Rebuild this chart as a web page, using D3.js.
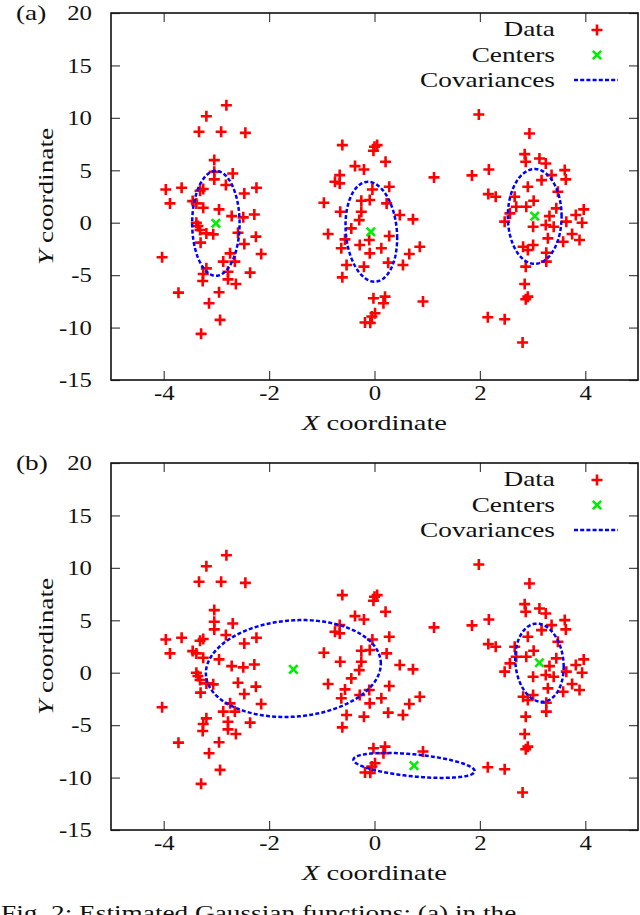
<!DOCTYPE html>
<html><head><meta charset="utf-8">
<script src="https://cdn.jsdelivr.net/npm/d3@7"></script>
<style>
html,body{margin:0;padding:0;background:#fff;}
svg{display:block;}
text{font-family:"Liberation Serif","Times New Roman",serif;fill:#111;}
</style></head><body>
<svg id="chart" width="640" height="915"></svg>
<script>
// ---------------- data ----------------
const clusterLeftX = [-2.81,-3.19,-3.33,-2.91,-2.45,-3.04,-3.04,-2.69,-3.04,-2.82,-3.96,-3.66,-3.25,-3.31,-2.47,-2.24,-3.88,-3.45,-3.38,-3.25,-2.95,-2.71,-2.49,-2.28,-3.38,-3.35,-3.31,-3.19,-3.06,-2.59,-2.25,-3.30,-2.47,-2.15,-4.03,-2.74,-2.87,-2.65,-3.19,-3.25,-3.26,-2.78,-2.78,-2.63,-2.36,-3.72,-2.95,-3.14,-2.93,-3.29];
const clusterLeftY = [11.2,10.16,8.67,8.67,8.57,5.97,4.86,4.70,4.13,3.59,3.17,3.33,3.21,3.05,2.79,3.33,1.84,2.06,1.84,1.43,1.27,0.63,0.51,0.79,0.0,-0.32,-0.70,-1.02,-1.11,-0.95,-1.33,-1.90,-2.03,-2.98,-3.30,-2.92,-3.71,-3.71,-4.35,-4.89,-5.56,-4.67,-5.40,-5.84,-4.76,-6.67,-6.63,-7.68,-9.27,-10.6];
const clusterMidX = [-0.61,0.00,0.05,-0.02,0.21,-0.37,-0.20,-0.66,-0.75,-0.66,-0.04,0.28,-0.96,-0.25,-0.09,0.23,-0.65,-0.25,0.48,0.73,-0.29,-0.44,-0.88,-0.56,-0.10,0.28,-0.28,0.13,-0.63,-0.09,0.66,0.86,0.26,0.54,-0.53,-0.20,-0.61,-0.02,0.20,0.17,-0.05,-0.18,0.01,-0.08,0.92,1.13];
const clusterMidY = [7.40,7.24,7.40,6.86,5.81,5.40,5.08,4.54,3.90,3.75,3.17,3.43,1.90,2.10,2.16,1.84,1.05,1.05,0.73,0.32,0.25,-0.54,-1.08,-1.59,-1.65,-1.27,-2.13,-2.44,-2.44,-2.92,-2.98,-2.29,-3.81,-4.03,-4.03,-4.19,-5.21,-7.21,-7.05,-7.68,-8.95,-9.52,-8.63,-9.55,-7.52,4.32];
const clusterRightX = [1.98,2.94,2.85,2.87,3.13,3.25,2.17,1.85,3.61,3.63,3.17,3.36,2.91,3.48,2.16,2.30,2.66,3.02,2.69,2.88,2.57,3.45,3.97,3.82,2.47,3.32,3.64,3.94,3.01,3.25,3.40,3.75,3.89,3.29,3.58,2.82,3.01,2.91,3.26,3.26,2.87,2.85,2.91,2.87,2.15,2.47,2.81];
const clusterRightY = [10.32,8.51,6.54,5.81,6.13,5.65,5.08,4.51,5.02,4.13,4.06,4.54,3.43,2.95,2.73,2.48,2.48,2.10,1.52,1.52,0.89,1.37,1.27,0.73,0.10,0.63,0.10,0.00,-0.38,-0.22,-0.38,-1.08,-1.65,-1.49,-1.81,-2.29,-2.13,-2.60,-2.86,-3.71,-4.19,-5.84,-7.05,-7.30,-9.02,-9.21,-11.43];

// centers (panel a, panel b)
const centersAX = [-3.01,-0.07,3.04];
const centersAY = [-0.06,-0.87,0.63];
const centersBX = [-1.54,0.75,3.13];
const centersBY = [0.32,-8.86,0.95];

// covariance ellipses: center, x half-extent, y half-extent, cross term
const ellA_cx = [-3.01,-0.06,3.04];
const ellA_cy = [-0.06,-0.86,0.60];
const ellA_sx = [0.45,0.49,0.51];
const ellA_sy = [5.0,4.76,4.52];
const ellA_sxy = [0.0,-0.30,0.0];
const ellB_cx = [-1.54,0.75,3.13];
const ellB_cy = [0.40,-8.84,0.95];
const ellB_sx = [1.66,1.15,0.46];
const ellB_sy = [4.62,1.19,3.73];
const ellB_sxy = [0.75,-0.63,-0.18];

const xTicks = [-4,-2,0,2,4];
const yTicks = [-15,-10,-5,0,5,10,15,20];
const panelLabels = ["(a)","(b)"];
const legendLabels = ["Data","Centers","Covariances"];
const xLabel = "coordinate";
const captionText = "Fig. 2: Estimated Gaussian functions: (a) in the";

// ---------------- drawing ----------------
const dataX = clusterLeftX.concat(clusterMidX, clusterRightX);
const dataY = clusterLeftY.concat(clusterMidY, clusterRightY);
const svg = d3.select("#chart");
const FONT = '"Liberation Serif","Times New Roman",serif';
const WORD_SX = 1.3, NUM_SX = 1.18;
const RED = "#ff0000", GREEN = "#00ee00", BLUE = "#0000ff";

const x = d3.scaleLinear().domain([-5,5]).range([111,638]);

function plusPath(s){ return `M${-s},0H${s}M0,${-s}V${s}`; }
function crossPath(s){ return `M${-s},${-s}L${s},${s}M${-s},${s}L${s},${-s}`; }

function ellipsePts(cx,cy,sx,sy,sxy){
  const l11 = sx, l21 = sxy/sx, l22 = Math.sqrt(sy*sy - l21*l21);
  return d3.range(0,360,2).map(deg=>{
    const t = deg*Math.PI/180;
    return [cx + l11*Math.cos(t), cy + l21*Math.cos(t) + l22*Math.sin(t)];
  });
}

const panels = [
  {top:13, bottom:380, off:0, label:panelLabels[0], cX:centersAX, cY:centersAY,
   e:{cx:ellA_cx,cy:ellA_cy,sx:ellA_sx,sy:ellA_sy,sxy:ellA_sxy}},
  {top:463, bottom:830, off:450, label:panelLabels[1], cX:centersBX, cY:centersBY,
   e:{cx:ellB_cx,cy:ellB_cy,sx:ellB_sx,sy:ellB_sy,sxy:ellB_sxy}}
];

function styleAxis(g){
  g.attr("font-family", FONT).attr("font-size", 21);
  g.select(".domain").remove();
  g.selectAll(".tick line").attr("stroke","#444").attr("stroke-width",1.2);
  g.selectAll(".tick text").attr("fill","#111");
}

panels.forEach(p=>{
  const y = d3.scaleLinear().domain([-15,20]).range([p.bottom,p.top]);
  const g = svg.append("g");
  const fmt = d=>String(d);

  // axes (ticks inward, mirrored)
  g.append("g").attr("transform",`translate(0,${p.bottom})`)
    .call(d3.axisBottom(x).tickValues(xTicks).tickSize(-9).tickPadding(5).tickFormat(fmt))
    .call(styleAxis)
    .call(a=>a.selectAll(".tick text").attr("transform",`scale(${NUM_SX},1)`));
  g.append("g").attr("transform",`translate(0,${p.top})`)
    .call(d3.axisTop(x).tickValues(xTicks).tickSize(-9).tickFormat(""))
    .call(styleAxis);
  g.append("g").attr("transform",`translate(${x.range()[0]},0)`)
    .call(d3.axisLeft(y).tickValues(yTicks).tickSize(-9).tickFormat(fmt))
    .call(styleAxis)
    .call(a=>a.selectAll(".tick text").attr("x",0).attr("transform",`translate(-19,0) scale(${NUM_SX},1)`));
  g.append("g").attr("transform",`translate(${x.range()[1]},0)`)
    .call(d3.axisRight(y).tickValues(yTicks).tickSize(-9).tickFormat(""))
    .call(styleAxis);

  // frame
  g.append("rect").attr("x",x.range()[0]).attr("y",p.top)
    .attr("width",x.range()[1]-x.range()[0]).attr("height",p.bottom-p.top)
    .attr("fill","none").attr("stroke","#111").attr("stroke-width",1.6);

  // data points
  g.append("g").selectAll("path").data(dataX.map((d,i)=>[d,dataY[i]])).join("path")
    .attr("transform",d=>`translate(${x(d[0])},${y(d[1])})`)
    .attr("d",plusPath(5.5)).attr("fill","none")
    .attr("stroke",RED).attr("stroke-width",2.6);

  // ellipses
  const line = d3.line().x(d=>x(d[0])).y(d=>y(d[1])).curve(d3.curveLinearClosed);
  p.e.cx.forEach((cx,i)=>{
    g.append("path").attr("d",line(ellipsePts(cx,p.e.cy[i],p.e.sx[i],p.e.sy[i],p.e.sxy[i])))
      .attr("fill","none").attr("stroke",BLUE).attr("stroke-width",2.5)
      .attr("stroke-dasharray","4,2.2");
  });

  // centers
  g.append("g").selectAll("path").data(p.cX.map((d,i)=>[d,p.cY[i]])).join("path")
    .attr("transform",d=>`translate(${x(d[0])},${y(d[1])})`)
    .attr("d",crossPath(4.2)).attr("fill","none")
    .attr("stroke",GREEN).attr("stroke-width",2.6);

  // panel label
  g.append("text").attr("transform",`translate(16,${20+p.off}) scale(${WORD_SX},1)`)
    .attr("font-size",21).text(p.label);

  // axis titles
  const xt = g.append("text").attr("transform",`translate(${(x.range()[0]+x.range()[1])/2},${430+p.off}) scale(1.36,1)`)
    .attr("font-size",21).attr("text-anchor","middle");
  xt.append("tspan").attr("font-style","italic").text("X");
  xt.append("tspan").text(" "+xLabel);
  const yt = g.append("text").attr("transform",`translate(53,${(p.top+p.bottom)/2}) rotate(-90) scale(${WORD_SX},1)`)
    .attr("font-size",21).attr("text-anchor","middle");
  yt.append("tspan").attr("font-style","italic").text("Y");
  yt.append("tspan").text(" "+xLabel);

  // legend
  const baselines = [36,62,87];
  legendLabels.forEach((lab,i)=>{
    g.append("text").attr("transform",`translate(555,${baselines[i]+p.off}) scale(${WORD_SX},1)`)
      .attr("font-size",21).attr("text-anchor","end").text(lab);
  });
  g.append("path").attr("transform",`translate(597,${30+p.off})`).attr("d",plusPath(5.5))
    .attr("stroke",RED).attr("stroke-width",2.6).attr("fill","none");
  g.append("path").attr("transform",`translate(597,${55+p.off})`).attr("d",crossPath(4.2))
    .attr("stroke",GREEN).attr("stroke-width",2.6).attr("fill","none");
  g.append("line").attr("x1",574).attr("x2",618).attr("y1",80+p.off).attr("y2",80+p.off)
    .attr("stroke",BLUE).attr("stroke-width",2.5).attr("stroke-dasharray","4,2.2");
});

// caption (cut by the bottom edge as in the original)
svg.append("text").attr("transform",`translate(1,920) scale(1.3,1)`)
  .attr("font-size",21).text(captionText);
</script>
</body></html>
